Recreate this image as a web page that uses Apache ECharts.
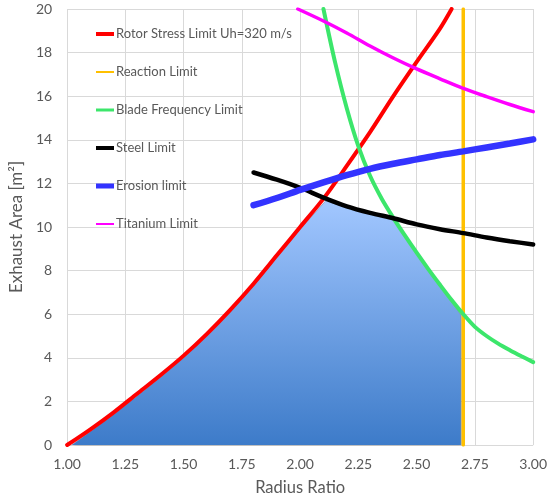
<!DOCTYPE html>
<html><head><meta charset="utf-8">
<script src="https://cdn.jsdelivr.net/npm/echarts@6/dist/echarts.min.js"></script>
<style>html,body{margin:0;padding:0;background:#fff}#c{width:550px;height:501px}</style>
</head><body><div id="c"></div>
<script>
const FONT = 'Lato, "Open Sans", sans-serif';
const xTicks = ['1.00','1.25','1.50','1.75','2.00','2.25','2.50','2.75','3.00'];
const yTicks = ['0','2','4','6','8','10','12','14','16','18','20'];

const seriesNames = ['Rotor Stress Limit Uh=320 m/s','Reaction Limit','Blade Frequency Limit','Steel Limit','Erosion limit','Titanium Limit'];

const rotorX = [1.0, 1.1, 1.2, 1.3, 1.4, 1.5, 1.6, 1.7, 1.8, 1.9, 2.0, 2.1, 2.2, 2.3, 2.4, 2.5, 2.6, 2.65];
const rotorY = [0, 0.72, 1.5, 2.35, 3.2, 4.1, 5.1, 6.2, 7.4, 8.7, 10.0, 11.3, 12.8, 14.35, 16.0, 17.57, 19.1, 20.0];

const reactionX = [2.70, 2.70];
const reactionY = [0, 20];

const bladeX = [2.10, 2.15, 2.2, 2.25, 2.3, 2.35, 2.4, 2.45, 2.5, 2.55, 2.6, 2.65, 2.7, 2.75, 2.8, 2.85, 2.9, 2.95, 3.0];
const bladeY = [20.0, 17.55, 15.45, 13.7, 12.35, 11.3, 10.42, 9.6, 8.82, 8.07, 7.35, 6.65, 6.0, 5.42, 5.0, 4.65, 4.35, 4.07, 3.8];

const steelX = [1.8, 1.9, 2.0, 2.1, 2.2, 2.3, 2.4, 2.5, 2.6, 2.7, 2.8, 2.9, 3.0];
const steelY = [12.5, 12.17, 11.8, 11.35, 10.95, 10.65, 10.4, 10.12, 9.9, 9.72, 9.52, 9.35, 9.2];

const erosionX = [1.8, 1.9, 2.0, 2.1, 2.2, 2.3, 2.4, 2.5, 2.6, 2.7, 2.8, 2.9, 3.0];
const erosionY = [11.0, 11.33, 11.7, 12.05, 12.38, 12.67, 12.9, 13.1, 13.3, 13.47, 13.65, 13.83, 14.02];

const titaniumX = [1.99, 2.1, 2.2, 2.3, 2.4, 2.5, 2.6, 2.7, 2.8, 2.9, 3.0];
const titaniumY = [20.0, 19.45, 18.9, 18.3, 17.75, 17.25, 16.8, 16.36, 15.98, 15.62, 15.29];

const fillX = [1.02, 1.1, 1.2, 1.3, 1.4, 1.5, 1.6, 1.7, 1.8, 1.9, 2.0, 2.11, 2.2, 2.3, 2.4, 2.45, 2.5, 2.55, 2.6, 2.65, 2.69, 2.69];
const fillY = [0, 0.62, 1.4, 2.25, 3.1, 4.0, 5.0, 6.1, 7.3, 8.6, 9.9, 11.2, 10.9, 10.62, 10.4, 9.55, 8.75, 8.0, 7.28, 6.58, 5.95, 0];

const colors = ['#FF0000','#FFC000','#3CE66B','#000000','#3333FF','#FF00FF'];
const widths = [4, 3.5, 4, 4.5, 6.5, 3.5];
const iconH = [4, 2, 3, 4, 5, 2];

function pts(xs, ys){ return xs.map((x,i)=>[x, ys[i]]); }
const xs = [rotorX, reactionX, bladeX, steelX, erosionX, titaniumX];
const ys = [rotorY, reactionY, bladeY, steelY, erosionY, titaniumY];

const chart = echarts.init(document.getElementById('c'), null, {renderer:'canvas'});
const series = [{
  name: 'feasible',
  type: 'line',
  data: pts(fillX, fillY),
  showSymbol: false, symbol: 'none',
  smooth: false,
  lineStyle: {width: 1, color: 'rgba(120,140,170,0.6)'},
  areaStyle: {
    color: new echarts.graphic.LinearGradient(0,0,0,1,[{offset:0,color:'#A2C7FF'},{offset:1,color:'#3D7BC9'}]),
    opacity: 1,
    shadowColor: 'rgba(0,0,0,0.35)', shadowBlur: 3, shadowOffsetX: 1, shadowOffsetY: 1
  },
  z: 1, silent: true
}];
seriesNames.forEach((n,i)=>{
  series.push({
    name: n, type: 'line', data: pts(xs[i], ys[i]),
    smooth: i===1 ? false : 0.3,
    showSymbol: false, symbol: 'none',
    lineStyle: {width: widths[i], color: colors[i], cap: 'round'},
    itemStyle: {color: colors[i]},
    z: 2 + i, silent: true
  });
});

chart.setOption({
  animation: false,
  textStyle: {fontFamily: FONT},
  grid: {left: 62, right: 16, top: 9, bottom: 55, containLabel: false},
  legend: {
    orient: 'vertical', left: 96, top: 27, padding: 0,
    itemWidth: 18, itemHeight: 6, itemGap: 24,
    textStyle: {fontFamily: FONT, fontSize: 13, color: '#595959', lineHeight: 14, padding: [0,0,0,-3]},
    data: seriesNames.map((n,i)=>({
      name: n,
      icon: 'path://M0,0h36v' + (iconH[i]*2) + 'h-36z',
      itemStyle: {color: colors[i]}
    }))
  },
  xAxis: {
    type: 'value', min: 1, max: 3, interval: 0.25,
    name: 'Radius Ratio', nameLocation: 'middle', nameGap: 34,
    nameTextStyle: {fontFamily: FONT, fontSize: 16.5, color: '#595959'},
    axisLine: {show: false}, axisTick: {show: false},
    axisLabel: {margin: 12, fontSize: 14, color: '#595959', fontFamily: FONT,
      formatter: v => xTicks[Math.round((v-1)/0.25)]},
    splitLine: {show: true, lineStyle: {color: '#D9D9D9', width: 1}}
  },
  yAxis: {
    type: 'value', min: 0, max: 20, interval: 2,
    name: 'Exhaust Area [m²]', nameLocation: 'middle', nameGap: 37, nameRotate: 90,
    nameTextStyle: {fontFamily: FONT, fontSize: 17, color: '#595959'},
    axisLine: {show: false}, axisTick: {show: false},
    axisLabel: {margin: 15, fontSize: 14, color: '#595959', fontFamily: FONT,
      formatter: v => yTicks[Math.round(v/2)]},
    splitLine: {show: true, lineStyle: {color: '#D9D9D9', width: 1}}
  },
  series: series
});
</script></body></html>
